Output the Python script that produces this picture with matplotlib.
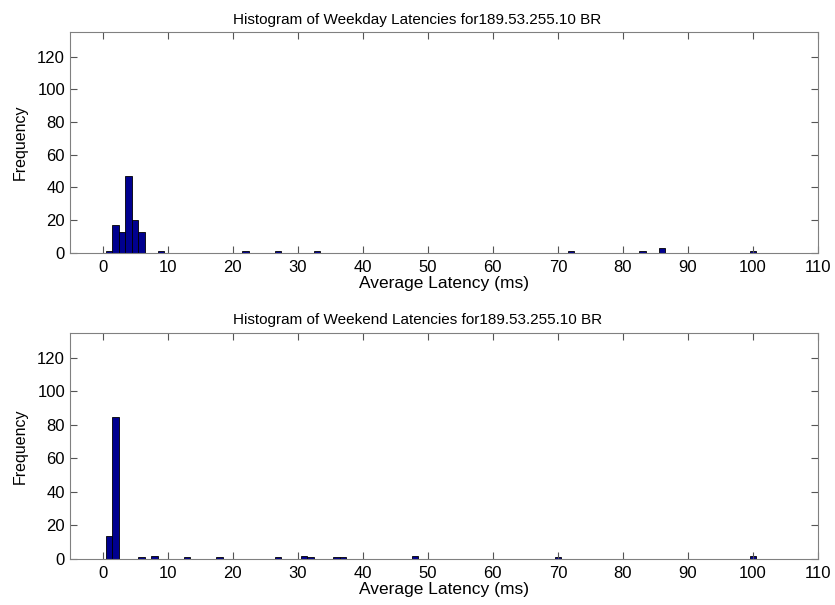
import matplotlib.pyplot as plt

plt.rcParams['font.family'] = ['Liberation Sans', 'DejaVu Sans']
plt.rcParams['font.size'] = 11

# weekday histogram (bin centre -> count)
weekday_bins = [1, 2, 3, 4, 5, 6, 9, 22, 27, 33, 72, 83, 86, 100]
weekday_counts = [1, 17, 13, 47, 20, 13, 1, 1, 1, 1, 1, 1, 3, 1]

# weekend histogram
weekend_bins = [1, 2, 6, 8, 13, 18, 27, 31, 32, 36, 37, 48, 70, 100]
weekend_counts = [14, 85, 1, 2, 1, 1, 1, 2, 1, 1, 1, 2, 1, 2]

xticks = list(range(0, 111, 10))
yticks = list(range(0, 121, 20))

fig = plt.figure(figsize=(8.35, 6.05), dpi=100)
ax1 = fig.add_axes([0.0838, 0.582, 0.896, 0.365])
ax2 = fig.add_axes([0.0838, 0.076, 0.896, 0.374])

panels = [
    (ax1, weekday_bins, weekday_counts, 'Histogram of Weekday Latencies for189.53.255.10 BR'),
    (ax2, weekend_bins, weekend_counts, 'Histogram of Weekend Latencies for189.53.255.10 BR'),
]

for ax, bins, counts, title in panels:
    ax.bar(bins, counts, width=1.0, color='#00008f', edgecolor='black', linewidth=0.6)
    ax.set_xlim(-5, 110)
    ax.set_ylim(0, 135)
    ax.set_xticks(xticks)
    ax.set_yticks(yticks)
    ax.tick_params(direction='in', top=True, right=True, length=5,
                   color='#555555', labelsize=12)
    ax.tick_params(axis='x', pad=5)
    for s in ax.spines.values():
        s.set_color('#808080')
    ax.set_title(title, fontsize=11, pad=6, x=0.464)
    ax.set_xlabel('Average Latency (ms)', fontsize=12.5, labelpad=1)
    ax.set_ylabel('Frequency', fontsize=11.5, labelpad=7)

fig.savefig('out.png', dpi=100)
